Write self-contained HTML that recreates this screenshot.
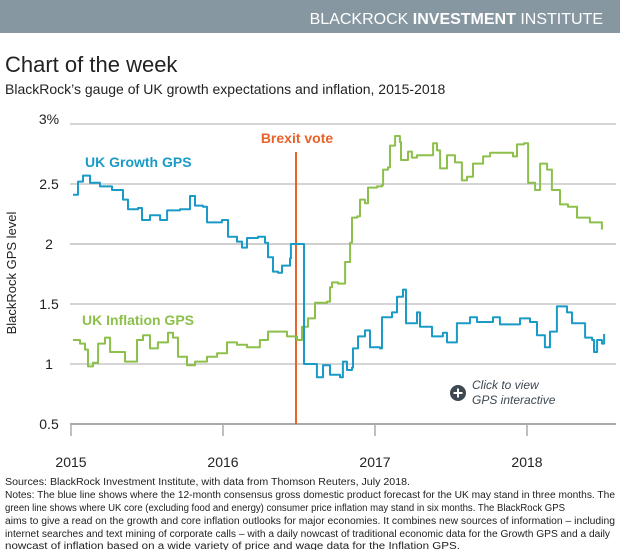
<!DOCTYPE html>
<html><head><meta charset="utf-8"><style>
body{margin:0;background:#fff}
svg{display:block;font-family:"Liberation Sans",sans-serif}
</style></head><body>
<svg id="c" width="620" height="550" viewBox="0 0 620 550">
<rect x="0" y="0" width="620" height="33" fill="#8797a1"/>
<text x="603" y="24" text-anchor="end" fill="#fff" font-size="16">BLACKROCK <tspan font-weight="bold">INVESTMENT</tspan> INSTITUTE</text>
<text x="5" y="72" font-size="22" fill="#222">Chart of the week</text>
<text x="5" y="94" font-size="14" fill="#222">BlackRock’s gauge of UK growth expectations and inflation, 2015-2018</text>
<g id="grid"></g>
<text transform="translate(16,273) rotate(-90)" text-anchor="middle" font-size="13" fill="#222">BlackRock GPS level</text>
<line x1="296" y1="152" x2="296" y2="424" stroke="#e8622a" stroke-width="2"/>
<text x="297" y="143" text-anchor="middle" font-size="14" font-weight="bold" fill="#e8622a">Brexit vote</text>
<g id="series"></g>
<text x="85" y="167" font-size="14" font-weight="bold" fill="#1a9bc7">UK Growth GPS</text>
<text x="82" y="325" font-size="14" font-weight="bold" fill="#8cc04a">UK Inflation GPS</text>
<g>
<circle cx="458" cy="393" r="8" fill="#3d4852"/>
<path d="M453.5 393h9M458 388.5v9" stroke="#fff" stroke-width="2"/>
<text x="472" y="389" font-size="12" font-style="italic" fill="#3d4852">Click to view</text>
<text x="472" y="404" font-size="12" font-style="italic" fill="#3d4852">GPS interactive</text>
</g>
<g font-size="10" fill="#222">
<text x="5" y="485" textLength="405" lengthAdjust="spacingAndGlyphs">Sources: BlackRock Investment Institute, with data from Thomson Reuters, July 2018.</text>
<text x="5" y="498" textLength="610" lengthAdjust="spacingAndGlyphs">Notes: The blue line shows where the 12-month consensus gross domestic product forecast for the UK may stand in three months. The</text>
<text x="5" y="511" textLength="560" lengthAdjust="spacingAndGlyphs">green line shows where UK core (excluding food and energy) consumer price inflation may stand in six months. The BlackRock GPS</text>
<text x="5" y="524" textLength="610" lengthAdjust="spacingAndGlyphs">aims to give a read on the growth and core inflation outlooks for major economies. It combines new sources of information – including</text>
<text x="5" y="537" textLength="605" lengthAdjust="spacingAndGlyphs">internet searches and text mining of corporate calls – with a daily nowcast of traditional economic data for the Growth GPS and a daily</text>
<text x="5" y="549" textLength="455" lengthAdjust="spacingAndGlyphs">nowcast of inflation based on a wide variety of price and wage data for the Inflation GPS.</text>
</g>
</svg>
<script>
const yTicks=[0.5,1,1.5,2,2.5,3];
const yTickLabels=["0.5","1","1.5","2","2.5","3%"];
const xTicks=[2015,2016,2017,2018];
const growthT=[.013,.046,.079,.125,.191,.27,.342,.375,.441,.467,.52,.586,.632,.717,.783,.816,.868,.895,.993,1.033,1.092,1.125,1.158,1.23,1.276,1.296,1.329,1.362,1.388,1.441,1.447,1.52,1.533,1.618,1.658,1.704,1.77,1.789,1.816,1.849,1.855,1.888,1.934,1.967,2.033,2.046,2.112,2.145,2.184,2.204,2.276,2.296,2.375,2.447,2.474,2.539,2.625,2.671,2.776,2.822,2.954,3.02,3.066,3.118,3.151,3.197,3.263,3.296,3.362,3.382,3.428,3.441,3.461,3.493,3.507];
const growthV=[2.41,2.52,2.57,2.51,2.48,2.45,2.37,2.29,2.3,2.2,2.24,2.2,2.28,2.29,2.4,2.32,2.31,2.18,2.2,2.06,2.02,1.97,2.05,2.06,2.01,1.89,1.77,1.76,1.82,1.88,2.0,2.0,1.0,0.89,0.99,0.91,0.89,1.02,0.95,0.97,1.13,1.23,1.28,1.14,1.13,1.39,1.43,1.56,1.62,1.34,1.43,1.31,1.23,1.26,1.18,1.34,1.39,1.35,1.39,1.33,1.38,1.35,1.24,1.14,1.27,1.48,1.43,1.34,1.34,1.22,1.2,1.1,1.2,1.17,1.25];
const inflT=[.013,.059,.092,.112,.145,.178,.224,.257,.303,.355,.408,.434,.474,.52,.572,.638,.671,.704,.763,.816,.895,.961,1.026,1.092,1.158,1.243,1.296,1.375,1.421,1.487,1.52,1.559,1.605,1.684,1.704,1.717,1.757,1.803,1.836,1.849,1.882,1.901,1.934,1.954,2.013,2.046,2.053,2.086,2.099,2.132,2.164,2.171,2.217,2.243,2.276,2.342,2.382,2.408,2.428,2.474,2.526,2.572,2.605,2.645,2.711,2.757,2.842,2.908,2.934,2.98,3.007,3.053,3.086,3.132,3.164,3.217,3.27,3.329,3.414,3.493];
const inflV=[1.2,1.17,1.12,0.98,1.01,1.17,1.22,1.1,1.1,1.02,1.02,1.2,1.24,1.13,1.18,1.26,1.22,1.06,0.99,1.02,1.06,1.09,1.18,1.16,1.14,1.2,1.27,1.27,1.23,1.2,1.31,1.38,1.51,1.52,1.64,1.68,1.67,1.85,2.01,2.22,2.23,2.37,2.34,2.47,2.48,2.49,2.62,2.64,2.82,2.9,2.85,2.7,2.77,2.72,2.74,2.74,2.84,2.78,2.63,2.74,2.68,2.53,2.56,2.67,2.73,2.76,2.76,2.73,2.83,2.84,2.51,2.45,2.67,2.62,2.45,2.33,2.31,2.22,2.18,2.12];
const NS="http://www.w3.org/2000/svg";
function xs(t){return 71+t*152;}
function xYear(y){return 71+(y-2015)*152;}
function ys(v){return 424-(v-0.5)*120;}
const grid=document.getElementById('grid');
function mk(tag,attrs,parent){const e=document.createElementNS(NS,tag);for(const k in attrs)e.setAttribute(k,attrs[k]);parent.appendChild(e);return e;}
yTicks.forEach((v,i)=>{
  if(v>0.5){
    const l=mk('line',{x1:70,x2:616,y1:ys(v),y2:ys(v),stroke:v===2?'#cfcfcf':'#ababab','stroke-width':v===2?2:1},grid);
    
    
  }
  const t=mk('text',{x:49,y:ys(v)+(v===3?0:5),'text-anchor':'middle','font-size':14,fill:'#222'},grid);
  t.textContent=yTickLabels[i];
  
  
});
const ax=mk('line',{x1:70,x2:616,y1:424,y2:424,stroke:'#aaa','stroke-width':2},grid);


xTicks.forEach(y=>{
  const tk=mk('line',{x1:xYear(y),x2:xYear(y),y1:424,y2:436,stroke:'#aaa','stroke-width':1.5},grid);
  
  
  const t=mk('text',{x:xYear(y),y:467,'text-anchor':'middle','font-size':14,fill:'#222'},grid);
  t.textContent=y;
  
  
});
function stepPath(T,V){let d='M'+xs(T[0]).toFixed(1)+' '+ys(V[0]).toFixed(1);
  for(let i=1;i<T.length;i++){d+=' H'+xs(T[i]).toFixed(1)+' V'+ys(V[i]).toFixed(1);}return d;}
const sg=document.getElementById('series');
const pi=mk('path',{d:stepPath(inflT,inflV),fill:'none',stroke:'#8cc04a','stroke-width':2,'stroke-linejoin':'round'},sg);


const pg=mk('path',{d:stepPath(growthT,growthV),fill:'none',stroke:'#1a9bc7','stroke-width':2,'stroke-linejoin':'round'},sg);


</script>
</body></html>
